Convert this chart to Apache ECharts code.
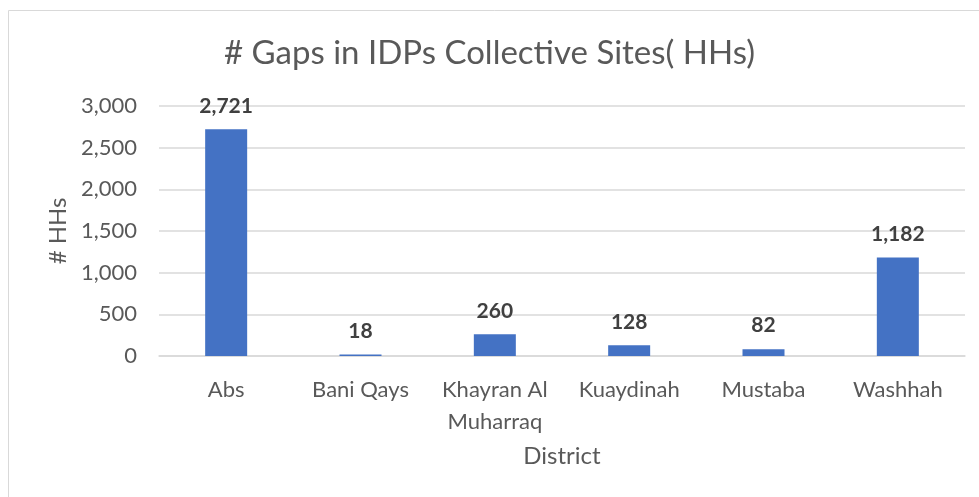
<!DOCTYPE html>
<html>
<head>
<meta charset="utf-8">
<script src="https://cdn.jsdelivr.net/npm/echarts@6/dist/echarts.min.js"></script>
<style>
  html, body { margin: 0; padding: 0; background: #fff; }
  #chart { width: 979px; height: 497px; }
</style>
</head>
<body>
<div id="chart"></div>
<script>
var districts = ['Abs', 'Bani Qays', 'Khayran Al\nMuharraq', 'Kuaydinah', 'Mustaba', 'Washhah'];
var gaps = [2721, 18, 260, 128, 82, 1182];
var yTicks = { min: 0, max: 3000, step: 500 };

var font = 'Lato, "Open Sans", sans-serif';
var chart = echarts.init(document.getElementById('chart'));
chart.setOption({
  animation: false,
  textStyle: { fontFamily: font },
  title: {
    text: '# Gaps in IDPs Collective Sites( HHs)',
    left: 'center',
    top: 32,
    textStyle: { fontSize: 33, fontWeight: 'normal', color: '#595959', fontFamily: font }
  },
  graphic: [{
    type: 'rect',
    shape: { x: 8.5, y: 10.5, width: 990, height: 500 },
    style: { fill: 'none', stroke: '#d9d9d9', lineWidth: 1 },
    silent: true
  }],
  grid: { left: 159, right: 14, top: 106, bottom: 141 },
  xAxis: {
    type: 'category',
    data: districts,
    name: 'District',
    nameLocation: 'middle',
    nameGap: 88,
    nameTextStyle: { fontSize: 24, color: '#595959' },
    axisLine: { lineStyle: { color: '#d9d9d9', width: 1.5 } },
    axisTick: { show: false },
    axisLabel: { fontSize: 22, color: '#595959', margin: 18, lineHeight: 32, interval: 0 }
  },
  yAxis: {
    type: 'value',
    min: yTicks.min,
    max: yTicks.max,
    interval: yTicks.step,
    name: '# HHs',
    nameLocation: 'middle',
    nameGap: 88,
    nameTextStyle: { fontSize: 24, color: '#595959' },
    axisLine: { show: false },
    axisTick: { show: false },
    axisLabel: {
      fontSize: 22, color: '#595959', margin: 22,
      formatter: function (v) { return v.toLocaleString('en-US'); }
    },
    splitLine: { lineStyle: { color: '#d9d9d9', width: 1.5 } }
  },
  series: [{
    type: 'bar',
    data: gaps,
    barWidth: 42,
    itemStyle: { color: '#4472c4' },
    label: {
      show: true,
      position: 'top',
      distance: 13,
      fontSize: 21,
      fontWeight: 'bold',
      color: '#404040',
      formatter: function (p) { return p.value.toLocaleString('en-US'); }
    }
  }]
});
</script>
</body>
</html>
